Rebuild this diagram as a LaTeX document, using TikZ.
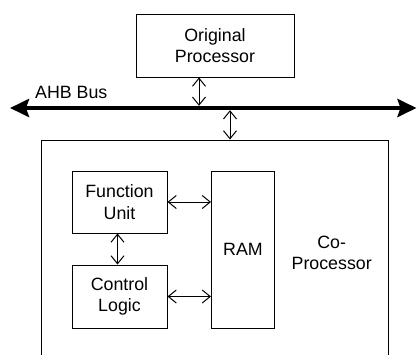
\documentclass[tikz,border=0pt]{standalone}
\usepackage{fontspec}
\setmainfont{Liberation Sans}
\usetikzlibrary{arrows.meta}
\begin{document}
\begin{tikzpicture}[x=1pt,y=-1pt,
  every node/.style={font=\fontsize{17.8}{21.5}\selectfont},
  blk/.style={draw,line width=1pt,rectangle,inner sep=0pt,align=center},
  link/.style={line width=1pt,{Straight Barb[length=8pt,width=13pt]}-{Straight Barb[length=8pt,width=13pt]}},
  bus/.style={line width=4.5pt,{Stealth[length=19pt,width=18pt,inset=3pt]}-{Stealth[length=19pt,width=18pt,inset=3pt]}}]
\useasboundingbox (0,0) rectangle (417,354);
\clip (0,0) rectangle (417,354);
% blocks
\node[blk,minimum width=158pt,minimum height=63pt] (orig) at (215,45.5) {Original\\Processor};
\node[blk,minimum width=346.5pt,minimum height=240pt] (copro) at (214.75,260) {};
\node (coprolabel) at (331.7,253) [align=center] {Co-\\Processor};
\node[blk,minimum width=95pt,minimum height=62pt] (fu) at (119.5,202) {Function\\Unit};
\node[blk,minimum width=95pt,minimum height=63pt] (cl) at (119.5,296.5) {Control\\Logic};
\node[blk,minimum width=63pt,minimum height=157pt] (ram) at (243,249.5) {RAM};
% bus
\coordinate (busL) at (10,108);
\coordinate (busR) at (416.5,108);
\draw[bus] (busL) -- (busR);
\node[anchor=west,inner sep=0pt] (buslabel) at (35,92) {AHB Bus};
\coordinate (pbus) at (199,105.8);
\coordinate (cbus) at (230,110.2);
\draw[link] (orig.south -| pbus) -- (pbus);
\draw[link] (cbus) -- (cbus |- copro.north);
% internal links
\draw[link] (fu.east) -- (fu.east -| ram.west);
\draw[link] (cl.east) -- (cl.east -| ram.west);
\draw[link] (fu.south -| 117.5,0) -- (cl.north -| 117.5,0);
\end{tikzpicture}
\end{document}
